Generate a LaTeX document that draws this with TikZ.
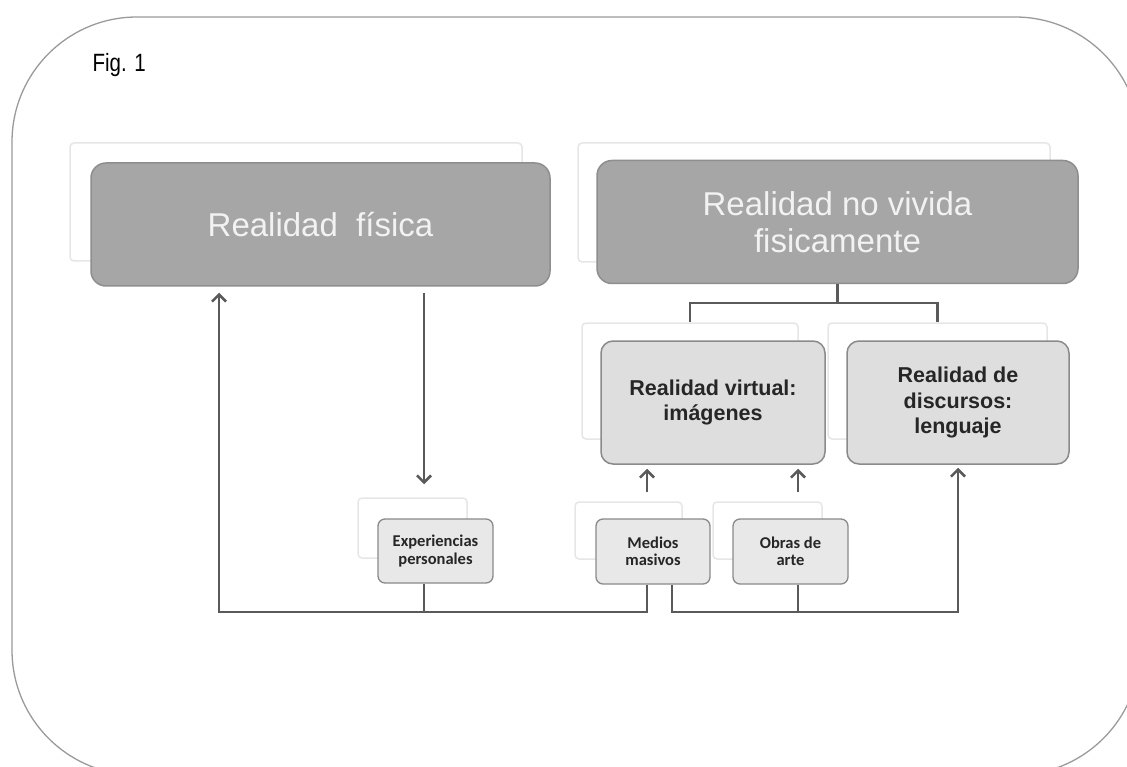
\documentclass[tikz,border=0pt]{standalone}
\usepackage{fontspec}
\setmainfont{Liberation Sans}
\newfontfamily\figfont[FakeStretch=0.82]{Liberation Sans}
\newfontfamily\boxfont{Carlito}
\usetikzlibrary{arrows.meta}
\definecolor{frame}{HTML}{9A9A9A}
\definecolor{topfill}{HTML}{A6A6A6}
\definecolor{topedge}{HTML}{8E8E8E}
\definecolor{midfill}{HTML}{DEDEDE}
\definecolor{midedge}{HTML}{8A8A8A}
\definecolor{smallfill}{HTML}{E8E8E8}
\definecolor{wire}{HTML}{5A5A5A}
\definecolor{ghostedge}{HTML}{E6E6E6}
\tikzset{
  ghost/.style={draw=ghostedge, line width=1.5pt, fill=white, rounded corners=4pt,
    inner sep=0pt},
  topbox/.style={draw=topedge, line width=1.5pt, fill=topfill, rounded corners=15pt,
    text=white!95!black, align=center, inner sep=0pt,
    font=\fontsize{33}{37}\selectfont},
  midbox/.style={draw=midedge, line width=1.5pt, fill=midfill, rounded corners=12pt,
    text=black!85, align=center, inner sep=0pt,
    font=\bfseries\fontsize{21.5}{25.5}\selectfont},
  smallbox/.style={draw=midedge, line width=1.3pt, fill=smallfill, rounded corners=7pt,
    text=black!85, align=center, inner sep=0pt,
    font=\boxfont\bfseries\fontsize{16.5}{17.5}\selectfont},
  wireline/.style={draw=wire, line width=2.6pt},
  arr/.style={wireline, -{Straight Barb[length=7pt,width=14pt]}},
}
\begin{document}
\begin{tikzpicture}[x=1pt, y=-1pt]
\useasboundingbox (0,0) rectangle (1127,767);
\clip (0,0) rectangle (1127,767);

% outer frame
\draw[frame, line width=1.3pt, rounded corners=125pt] (12,17) rectangle (1140,775);

\node[anchor=base west, font=\figfont\fontsize{25}{28}\selectfont] (fig) at (89,72) {Fig. 1};

% pale backing cards
\node[ghost, minimum width=452pt, minimum height=118pt] (gp) at (296,202) {};
\node[ghost, minimum width=472pt, minimum height=119pt] (gn) at (814,202.5) {};
\node[ghost, minimum width=216pt, minimum height=116pt] (gv) at (690,381) {};
\node[ghost, minimum width=219pt, minimum height=116pt] (gd) at (937.5,381) {};
\node[ghost, minimum width=109pt, minimum height=60pt] (eg) at (412.5,528) {};
\node[ghost, minimum width=107pt, minimum height=57pt] (mg) at (628.5,530.5) {};
\node[ghost, minimum width=109pt, minimum height=57pt] (og) at (767.5,530.5) {};

% main boxes
\node[topbox, minimum width=459pt, minimum height=123pt] (phys) at (320.5,224.5)
  {Realidad\ \ física};
\node[topbox, minimum width=481pt, minimum height=123pt] (nv) at (837.5,222)
  {Realidad no vivida\\fisicamente};
\node[midbox, minimum width=224pt, minimum height=123pt] (virt) at (713,402.5)
  {Realidad virtual:\\imágenes};
\node[midbox, minimum width=222pt, minimum height=123pt] (disc) at (958,402.5)
  {Realidad de\\discursos:\\lenguaje};
\node[smallbox, minimum width=115pt, minimum height=64pt] (exp) at (435.5,551)
  {Experiencias\\personales};
\node[smallbox, minimum width=114pt, minimum height=65pt] (med) at (653,551.5)
  {Medios\\masivos};
\node[smallbox, minimum width=115pt, minimum height=65pt] (obr) at (790.5,551.5)
  {Obras de\\arte};

% reference columns and the base line
\coordinate (base) at (0,612);
\coordinate (cL) at (219,0);
\coordinate (cE) at (424,0);
\coordinate (cM1) at (647,0);
\coordinate (cM2) at (672,0);
\coordinate (cO) at (798,0);
\coordinate (cD) at (958,0);
\coordinate (split) at (0,303);

% tree under the right heading
\draw[wireline] (nv.south) -- (nv.south |- split) coordinate (jn);
\draw[wireline] (gv.north) |- (jn) -| (gd.north);

% physical reality down to personal experience
\draw[arr] (phys.south -| cE) ++(0,6) -- ([yshift=13pt]eg.north -| cE);

% left loop: experiences and media back up to physical reality
\draw[wireline] (exp.south -| cE) -- (base -| cE);
\draw[arr, shorten >=6pt] (med.south -| cM1) -- (base -| cM1) -- (base -| cL) -- (phys.south -| cL);

% right loop: media and art up to discourse
\draw[wireline] (obr.south -| cO) -- (base -| cO);
\draw[arr, shorten >=3pt] (med.south -| cM2) -- (base -| cM2) -- (base -| cD) -- (disc.south -| cD);

% media and art up to virtual reality
\draw[arr, shorten >=4pt] ([yshift=9pt]mg.north -| cM1) -- (virt.south -| cM1);
\draw[arr, shorten >=4pt] ([yshift=9pt]og.north -| cO) -- (virt.south -| cO);
\end{tikzpicture}
\end{document}
